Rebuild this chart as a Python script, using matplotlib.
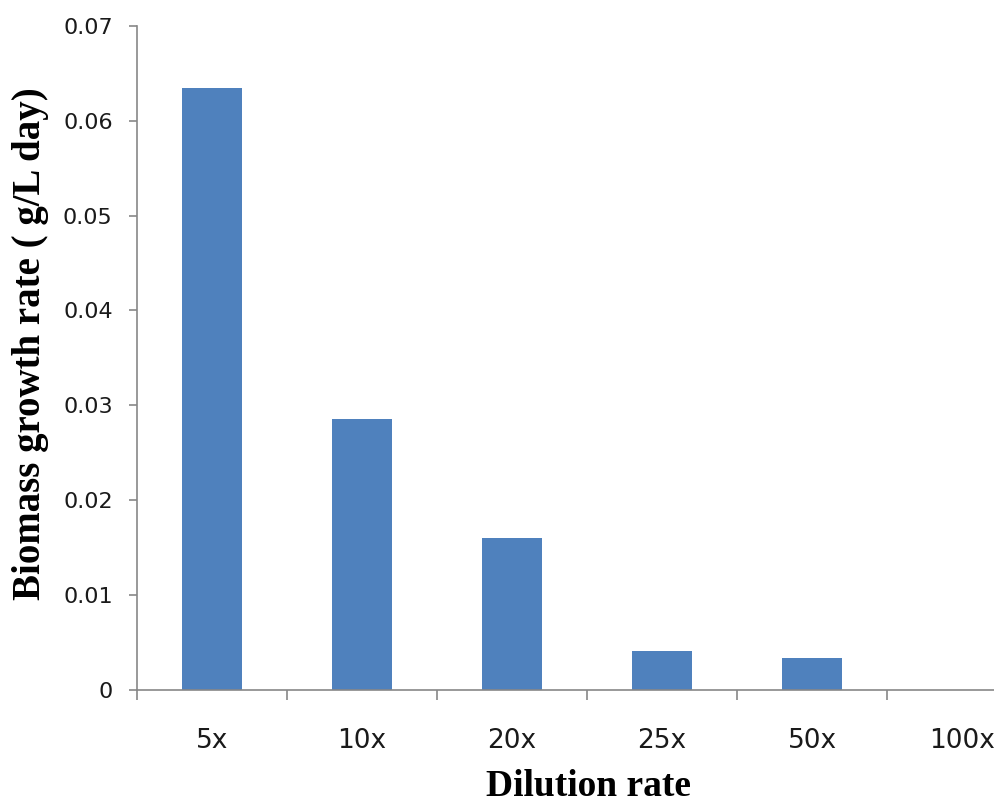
import matplotlib.pyplot as plt
import numpy as np

dilutions = ["5x", "10x", "20x", "25x", "50x", "100x"]
growth_rate = [0.0635, 0.0285, 0.0160, 0.0041, 0.0033, 0.0]
y_ticks = [0, 0.01, 0.02, 0.03, 0.04, 0.05, 0.06, 0.07]
y_tick_labels = ["0", "0.01", "0.02", "0.03", "0.04", "0.05", "0.06", "0.07"]

W, H = 994, 805
fig = plt.figure(figsize=(W / 100, H / 100), dpi=100)

# plot area runs past the right edge of the figure
left, right = 137, 1037
top, bottom = 26, 689.5
ax = fig.add_axes([left / W, (H - bottom) / H, (right - left) / W, (bottom - top) / H])

x = np.arange(len(dilutions))
ax.bar(x, growth_rate, width=0.4, color="#4F81BD", edgecolor="none")

ax.set_xlim(-0.5, len(dilutions) - 0.5)
ax.set_ylim(0, 0.07)

axis_grey = "#878787"
for side in ["top", "right"]:
    ax.spines[side].set_visible(False)
for side in ["left", "bottom"]:
    ax.spines[side].set_color(axis_grey)
    ax.spines[side].set_linewidth(1.2)

ax.set_yticks(y_ticks)
ax.set_yticklabels(y_tick_labels, fontsize=16, family="DejaVu Sans", color="#1a1a1a")
ax.tick_params(axis="y", direction="out", length=6, width=1.2, color=axis_grey, pad=11.5)

# category boundaries carry the tick marks, centres carry the labels
ax.set_xticks(np.arange(len(dilutions) + 1) - 0.5)
ax.set_xticklabels([])
ax.tick_params(axis="x", which="major", direction="out", length=7, width=1.2, color=axis_grey)
ax.set_xticks(x, minor=True)
ax.set_xticklabels(dilutions, minor=True, fontsize=19,
                   family=["Liberation Sans Narrow", "DejaVu Sans"], color="#1a1a1a")
ax.tick_params(axis="x", which="minor", length=0, pad=28)

fig.text(31 / W, 1 - 344 / H, "Biomass growth rate ( g/L day)", rotation=90,
         ha="center", va="center", fontsize=28, fontweight="bold",
         family="Liberation Serif")
fig.text(588 / W, 1 - 796 / H, "Dilution rate", ha="center", va="baseline",
         fontsize=27, fontweight="bold", family="Liberation Serif")

fig.savefig("out.png", dpi=100)
